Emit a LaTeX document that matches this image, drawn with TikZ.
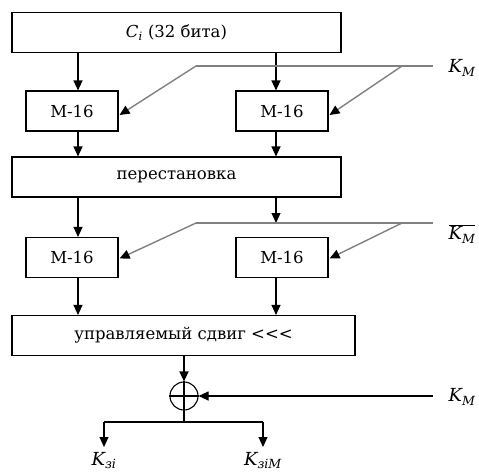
\documentclass[tikz,border=0pt]{standalone}
\usepackage{fontspec}
\setmainfont{DejaVu Serif}
\usetikzlibrary{arrows.meta,calc}
\begin{document}
\begin{tikzpicture}[x=1pt,y=-1pt,
  box/.style={draw,line width=1.1pt,minimum height=40pt,inner sep=0pt,font=\fontsize{16.5}{18}\selectfont},
  arr/.style={line width=1.1pt,-{Triangle[length=10pt,width=9pt]}},
  gline/.style={draw=black!50,line width=2pt},
  garr/.style={draw=black!50,line width=1.4pt,-{Triangle[length=10pt,width=9pt,color=black]}},
  lab/.style={font=\fontsize{18}{20}\selectfont\itshape,inner sep=0pt}]
\useasboundingbox (0,0) rectangle (479,472);
\coordinate (xa) at (78,0);
\coordinate (xb) at (276,0);
% top box
\node[box,minimum width=329pt] (top) at (176.5,32.5) {\textit{C}\textsubscript{\textit{i}} (32 бита)};
% first M-16 row
\node[box,minimum width=92pt] (m1) at (72,111) {M-16};
\node[box,minimum width=92pt] (m2) at (282,111) {M-16};
\draw[arr] (top.south -| xa) -- (m1.north -| xa);
\draw[arr] (top.south -| xb) -- (m2.north -| xb);
% key line 1
\coordinate (g1a) at (196,66);
\coordinate (g1b) at (402,66);
\coordinate (g1e) at (433,66);
\draw[gline] (g1a) -- (g1e);
\draw[garr] (g1a) -- ($(m1.east)+(1,4)$);
\draw[garr] (g1b) -- ($(m2.east)+(1,4)$);
\node[lab] (km1) at (462,68) {K\textsubscript{M}};
% permutation
\node[box,minimum width=329pt] (perm) at (176.5,177) {перестановка};
\draw[arr] (m1.south -| xa) -- (perm.north -| xa);
\draw[arr] (m2.south -| xb) -- (perm.north -| xb);
% second M-16 row
\node[box,minimum width=92pt] (m3) at (72,257.5) {M-16};
\node[box,minimum width=92pt] (m4) at (282,257.5) {M-16};
\coordinate (g2a) at (196,223);
\coordinate (g2b) at (402,223);
\coordinate (g2e) at (433,223);
\coordinate (g2m) at (276,223);
\draw[arr] (perm.south -| xa) -- (m3.north -| xa);
\draw[arr] (perm.south -| xb) -- (g2m);
\draw[gline] (g2a) -- (g2e);
\draw[garr] (g2a) -- ($(m3.east)+(1,1)$);
\draw[garr] (g2b) -- ($(m4.east)+(1,1)$);
\node[lab] (km2) at (462,234) {$\overline{\mbox{\itshape K\textsubscript{M}}}$};
% controlled shift
\node[box,minimum width=343pt] (shift) at (183.5,335.5) {управляемый сдвиг \textless\kern0pt\textless\kern0pt\textless};
\draw[arr] (m3.south -| xa) -- (shift.north -| xa);
\draw[arr] (m4.south -| xb) -- (shift.north -| xb);
% xor
\node[draw,circle,line width=1.1pt,minimum size=28pt,inner sep=0pt] (xor) at (184,396) {};
\draw[line width=1.1pt] (xor.north) -- (xor.south);
\draw[line width=1.1pt] (xor.west) -- (xor.east);
\draw[arr] (shift.south -| xor.north) -- (xor.north);
\coordinate (kin) at (433,396);
\draw[arr] (kin) -- (xor.east);
\node[lab] (km3) at (462,397) {K\textsubscript{M}};
% outputs
\coordinate (br) at (184,422);
\coordinate (bl) at (104,422);
\coordinate (brr) at (263,422);
\draw[line width=1.1pt] (xor.south) -- (br);
\draw[line width=1.1pt] (bl) -- (brr);
\node[lab,anchor=north] (k1) at (104,452) {K\textsubscript{зi}};
\node[lab,anchor=north] (k2) at (263,452) {K\textsubscript{зiM}};
\draw[arr] (bl) -- ($(k1.north)+(0,-5)$);
\draw[arr] (brr) -- ($(k2.north)+(0,-5)$);
\end{tikzpicture}
\end{document}
